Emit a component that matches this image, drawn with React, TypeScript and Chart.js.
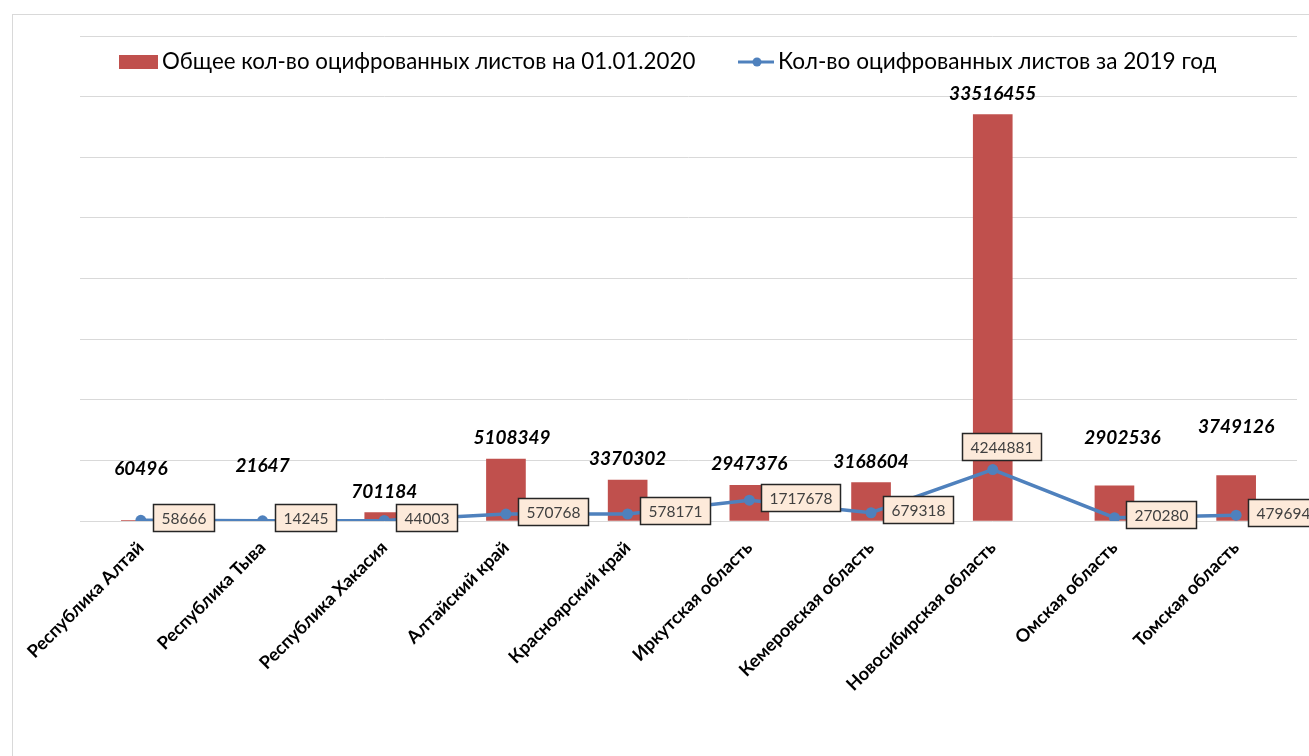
import React, { useEffect, useRef } from 'react';
import { Chart, registerables } from 'chart.js';

Chart.register(...registerables);

const regions: string[] = [
  'Республика Алтай',
  'Республика Тыва',
  'Республика Хакасия',
  'Алтайский край',
  'Красноярский край',
  'Иркутская область',
  'Кемеровская область',
  'Новосибирская область',
  'Омская область',
  'Томская область',
];

const totalSheets: number[] = [60496, 21647, 701184, 5108349, 3370302, 2947376, 3168604, 33516455, 2902536, 3749126];
const sheets2019: number[] = [58666, 14245, 44003, 570768, 578171, 1717678, 679318, 4244881, 270280, 479694];

const totalLabel = 'Общее кол-во оцифрованных листов на 01.01.2020';
const yearLabel = 'Кол-во оцифрованных листов за 2019 год';

const yMin = 0;
const yMax = 40000000;
const yStep = 5000000;

// label placement style (pixels), not data
const barLabelLift = [30, 34, 0, 0, 0, 0, 0, 0, 27, 28];
const barLabelShiftX = [0, 0, 0, 6, 0, 0, 0, 0, 8, 0];
const lineLabelPlace = ['right', 'right', 'right', 'right', 'right', 'right', 'right', 'above', 'right', 'right'];

const RED = '#C0504D';
const BLUE = '#4F81BD';

const decorPlugin = {
  id: 'decor',
  beforeDraw(chart: any) {
    const ctx = chart.ctx;
    ctx.save();
    ctx.strokeStyle = '#D9D9D9';
    ctx.lineWidth = 1;
    ctx.strokeRect(12.5, 14.5, 1400, 800);
    ctx.restore();
  },
  afterDraw(chart: any) {
    const ctx = chart.ctx;
    ctx.save();
    // legend
    ctx.fillStyle = RED;
    ctx.fillRect(119, 55, 39, 14);
    ctx.fillStyle = '#000';
    ctx.font = '22.3px Lato';
    ctx.textBaseline = 'middle';
    ctx.textAlign = 'left';
    ctx.fillText(totalLabel, 162, 62);
    ctx.strokeStyle = BLUE;
    ctx.lineWidth = 3;
    ctx.beginPath();
    ctx.moveTo(738, 62);
    ctx.lineTo(774, 62);
    ctx.stroke();
    ctx.fillStyle = BLUE;
    ctx.beginPath();
    ctx.arc(757, 62, 4.5, 0, Math.PI * 2);
    ctx.fill();
    ctx.fillStyle = '#000';
    ctx.font = '22.6px Lato';
    ctx.fillText(yearLabel, 778, 62);

    // bar labels
    const barMeta = chart.getDatasetMeta(0);
    ctx.font = 'italic bold 19px Lato';
    ctx.textAlign = 'center';
    ctx.textBaseline = 'middle';
    ctx.fillStyle = '#000';
    barMeta.data.forEach((el: any, i: number) => {
      const v = chart.data.datasets[0].data[i];
      ctx.fillText(String(v), el.x + barLabelShiftX[i], el.y - 21 - barLabelLift[i]);
    });

    // line labels
    const lineMeta = chart.getDatasetMeta(1);
    ctx.font = '15.5px Lato';
    lineMeta.data.forEach((el: any, i: number) => {
      const txt = String(chart.data.datasets[1].data[i]);
      const w = Math.round(ctx.measureText(txt).width) + 16;
      const h = 27;
      let bx: number, by: number;
      if (lineLabelPlace[i] === 'above') {
        bx = Math.round(el.x + 9 - w / 2);
        by = Math.round(el.y - 10 - h);
      } else {
        bx = Math.round(el.x + 12);
        by = Math.round(el.y - 3 - h / 2);
      }
      ctx.fillStyle = '#FDEADA';
      ctx.fillRect(bx, by, w, h);
      ctx.strokeStyle = '#262626';
      ctx.lineWidth = 1.5;
      ctx.strokeRect(bx + 0.5, by + 0.5, w, h);
      ctx.fillStyle = '#404040';
      ctx.textAlign = 'center';
      ctx.fillText(txt, bx + w / 2 + 0.5, by + h / 2 + 1);
    });
    ctx.restore();
  },
};

export default function App() {
  const ref = useRef<HTMLCanvasElement | null>(null);
  useEffect(() => {
    if (!ref.current) return;
    const chart = new Chart(ref.current, {
      type: 'bar',
      data: {
        labels: regions,
        datasets: [
          {
            type: 'bar',
            label: totalLabel,
            data: totalSheets,
            backgroundColor: RED,
            barThickness: 39,
            order: 1,
          } as any,
          {
            type: 'line',
            label: yearLabel,
            data: sheets2019,
            borderColor: BLUE,
            backgroundColor: BLUE,
            borderWidth: 3.5,
            pointRadius: 5.5,
            pointBorderWidth: 0,
            pointBackgroundColor: BLUE,
            tension: 0,
            order: 0,
          } as any,
        ],
      },
      options: {
        animation: false,
        responsive: false,
        maintainAspectRatio: false,
        layout: { padding: { left: 80, right: 12, top: 36, bottom: 0 } },
        plugins: {
          legend: { display: false },
          tooltip: { enabled: false },
          title: { display: false },
        },
        scales: {
          x: {
            grid: { display: false },
            border: { display: false },
            ticks: {
              autoSkip: false,
              minRotation: 45,
              maxRotation: 45,
              color: '#000',
              padding: 8,
              font: { family: 'Lato', size: 18, weight: 'bold' },
            },
            afterFit: (scale: any) => {
              scale.height = 235;
            },
          },
          y: {
            min: yMin,
            max: yMax,
            ticks: { stepSize: yStep, display: false },
            grid: { color: '#D9D9D9', drawTicks: false, lineWidth: 1 },
            border: { display: false },
            afterFit: (scale: any) => {
              scale.width = 0;
            },
          },
        },
      },
      plugins: [decorPlugin],
    });
    return () => chart.destroy();
  }, []);
  return (
    <div style={{ position: 'fixed', left: 0, top: 0, width: 1309, height: 756, background: '#fff' }}>
      <canvas ref={ref} width={1309} height={756} style={{ display: 'block' }} />
    </div>
  );
}
